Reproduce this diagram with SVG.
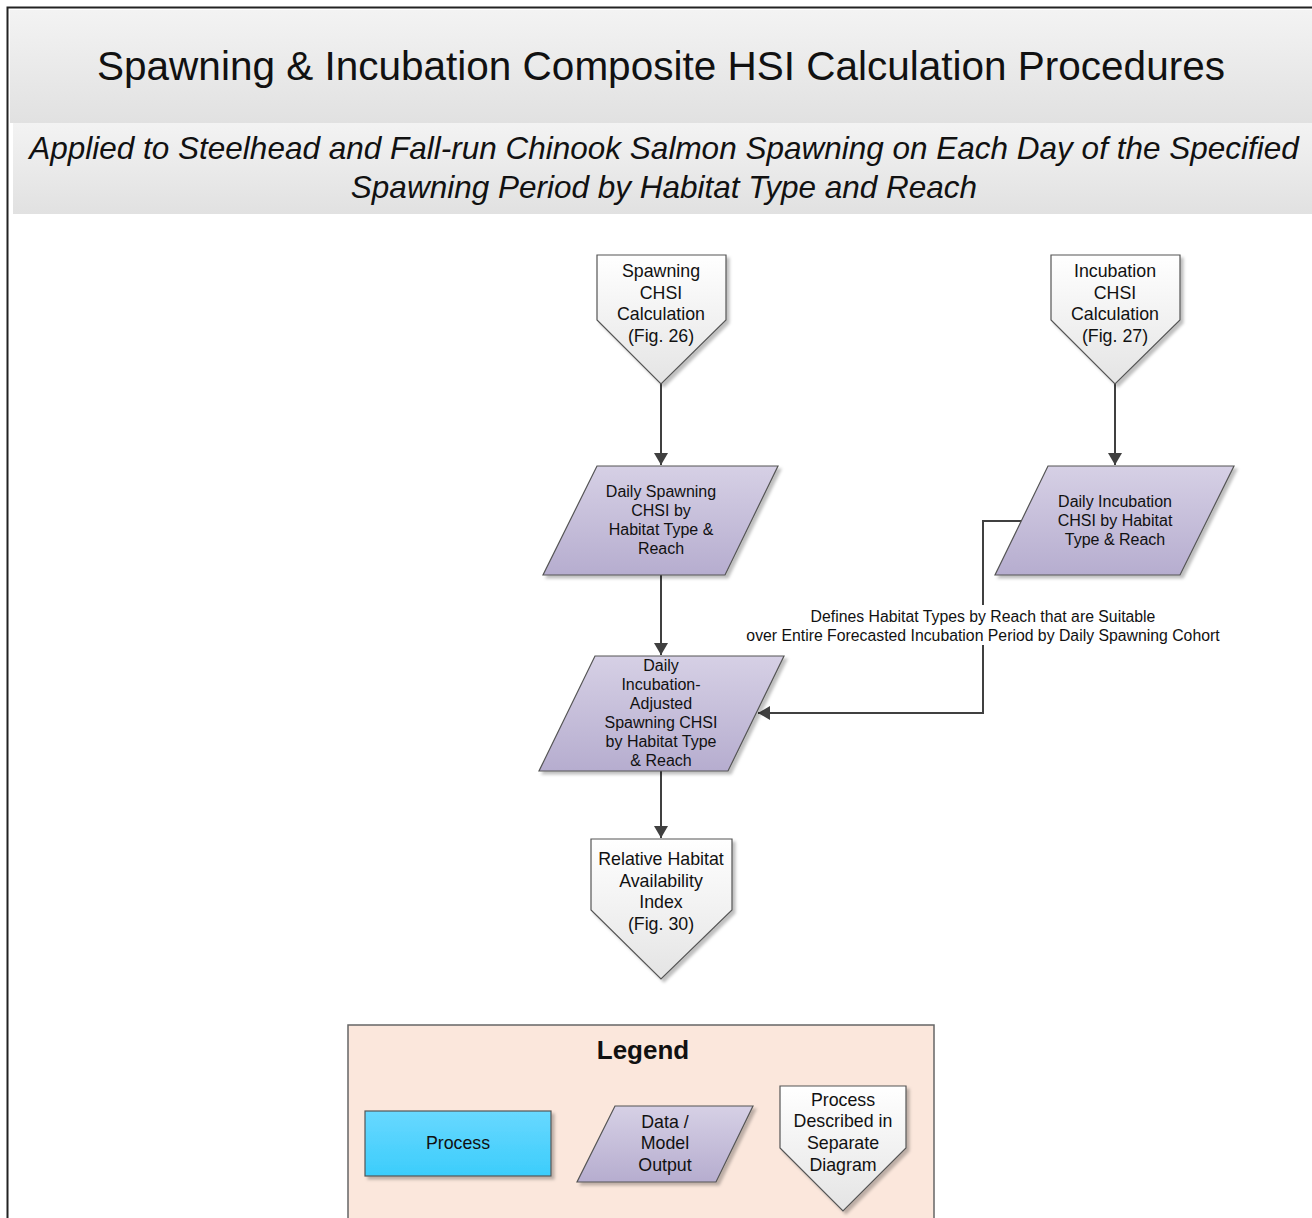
<svg xmlns="http://www.w3.org/2000/svg" width="1312" height="1218" viewBox="0 0 1312 1218">
<defs>
<linearGradient id="band" x1="0" y1="0" x2="0" y2="1"><stop offset="0" stop-color="#f3f3f3"/><stop offset="1" stop-color="#e1e1e1"/></linearGradient>
<linearGradient id="para" x1="0" y1="0" x2="0" y2="1"><stop offset="0" stop-color="#d6d0e5"/><stop offset="1" stop-color="#b6adcf"/></linearGradient>
<linearGradient id="pent" x1="0" y1="0" x2="0" y2="1"><stop offset="0" stop-color="#ffffff"/><stop offset="1" stop-color="#e4e4e4"/></linearGradient>
<linearGradient id="proc" x1="0" y1="0" x2="0" y2="1"><stop offset="0" stop-color="#68d8ff"/><stop offset="1" stop-color="#3ccdfb"/></linearGradient>
<filter id="sh" x="-10%" y="-10%" width="130%" height="130%"><feDropShadow dx="3" dy="3" stdDeviation="1.5" flood-color="#000" flood-opacity="0.25"/></filter>
<marker id="arr" viewBox="0 0 12 14" refX="12" refY="7" markerWidth="12" markerHeight="14" markerUnits="userSpaceOnUse" orient="auto"><path d="M0,0 L12,7 L0,14 Z" fill="#404040"/></marker>
</defs>
<style>
text{font-family:"Liberation Sans",Arial,sans-serif;fill:#111;text-anchor:middle}
.t18{font-size:17.8px}
.t16{font-size:16px}
.lbl{font-size:15.8px}
.node{stroke:#555;stroke-width:1.2;filter:url(#sh)}
.p{fill:url(#para)}
.pe{fill:url(#pent)}
.conn path{fill:none;stroke:#404040;stroke-width:2}
</style>
<rect x="0" y="0" width="1312" height="1218" fill="#fff"/>
<rect x="7.5" y="7.5" width="1330" height="1240" fill="none" stroke="#222" stroke-width="2"/>
<g id="header">
<rect x="10" y="10" width="1302" height="113" fill="url(#band)"/>
<rect x="13" y="123" width="1299" height="91" fill="url(#band)"/>
<text x="661" y="80" style="font-size:40.5px">Spawning &amp; Incubation Composite HSI Calculation Procedures</text>
<text x="664" y="159" style="font-size:31.5px;font-style:italic">Applied to Steelhead and Fall-run Chinook Salmon Spawning on Each Day of the Specified</text>
<text x="664" y="198" style="font-size:31.5px;font-style:italic">Spawning Period by Habitat Type and Reach</text>
</g>
<g id="connectors" class="conn">
<path d="M661,384 V465" marker-end="url(#arr)"/>
<path d="M1115,384 V465" marker-end="url(#arr)"/>
<path d="M661,575 V655" marker-end="url(#arr)"/>
<path d="M1022,521 H983 V713 H758" marker-end="url(#arr)"/>
<path d="M661,771 V838" marker-end="url(#arr)"/>
<rect x="744" y="605" width="478" height="40" fill="#fff"/>
<text class="lbl" x="983" y="622">Defines Habitat Types by Reach that are Suitable</text>
<text class="lbl" x="983" y="641">over Entire Forecasted Incubation Period by Daily Spawning Cohort</text>
</g>
<g id="spawning-chsi">
<path class="node pe" d="M597,255 H726 V320 L661,384 L597,320 Z"/>
<text class="t18" x="661" y="277">Spawning</text>
<text class="t18" x="661" y="299">CHSI</text>
<text class="t18" x="661" y="320">Calculation</text>
<text class="t18" x="661" y="342">(Fig. 26)</text>
</g>
<g id="incubation-chsi">
<path class="node pe" d="M1051,255 H1180 V320 L1115,384 L1051,320 Z"/>
<text class="t18" x="1115" y="277">Incubation</text>
<text class="t18" x="1115" y="299">CHSI</text>
<text class="t18" x="1115" y="320">Calculation</text>
<text class="t18" x="1115" y="342">(Fig. 27)</text>
</g>
<g id="daily-spawning">
<path class="node p" d="M597,466 H778 L725,575 H543 Z"/>
<text class="t16" x="661" y="497">Daily Spawning</text>
<text class="t16" x="661" y="516">CHSI by</text>
<text class="t16" x="661" y="535">Habitat Type &amp;</text>
<text class="t16" x="661" y="554">Reach</text>
</g>
<g id="daily-incubation">
<path class="node p" d="M1048,466 H1234 L1180,575 H995 Z"/>
<text class="t16" x="1115" y="507">Daily Incubation</text>
<text class="t16" x="1115" y="526">CHSI by Habitat</text>
<text class="t16" x="1115" y="545">Type &amp; Reach</text>
</g>
<g id="daily-adjusted">
<path class="node p" d="M595,656 H784 L728,771 H539 Z"/>
<text class="t16" x="661" y="671">Daily</text>
<text class="t16" x="661" y="690">Incubation-</text>
<text class="t16" x="661" y="709">Adjusted</text>
<text class="t16" x="661" y="728">Spawning CHSI</text>
<text class="t16" x="661" y="747">by Habitat Type</text>
<text class="t16" x="661" y="766">&amp; Reach</text>
</g>
<g id="relative-habitat">
<path class="node pe" d="M591,839 H732 V910 L661,979 L591,910 Z"/>
<text class="t18" x="661" y="865">Relative Habitat</text>
<text class="t18" x="661" y="887">Availability</text>
<text class="t18" x="661" y="908">Index</text>
<text class="t18" x="661" y="930">(Fig. 30)</text>
</g>
<g id="legend">
<rect x="348" y="1025" width="586" height="220" fill="#fbe7dc" stroke="#666" stroke-width="1.5"/>
<path d="M352,1073 H934" stroke="#555" stroke-width="1.5" filter="url(#sh)"/>
<text x="643" y="1059" style="font-size:26px;font-weight:bold">Legend</text>
<g id="legend-process">
<rect class="node" x="365" y="1111" width="186" height="65" fill="url(#proc)"/>
<text class="t18" x="458" y="1149">Process</text>
</g>
<g id="legend-data">
<path class="node p" d="M615,1106 H753 L716,1182 H577 Z"/>
<text class="t18" x="665" y="1128">Data /</text>
<text class="t18" x="665" y="1149">Model</text>
<text class="t18" x="665" y="1171">Output</text>
</g>
<g id="legend-offpage">
<path class="node pe" d="M780,1086 H906 V1148 L843,1211 L780,1148 Z"/>
<text class="t18" x="843" y="1106">Process</text>
<text class="t18" x="843" y="1127">Described in</text>
<text class="t18" x="843" y="1149">Separate</text>
<text class="t18" x="843" y="1171">Diagram</text>
</g>
</g>
</svg>
